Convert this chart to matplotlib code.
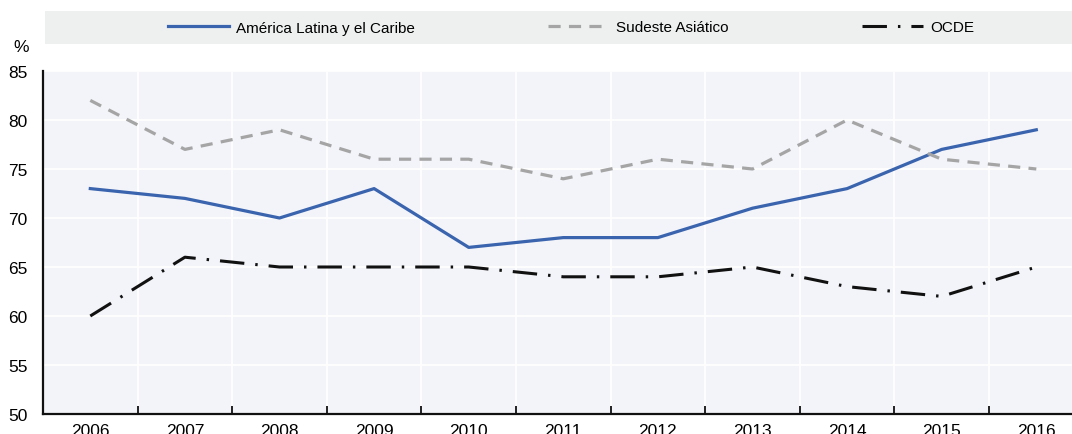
import matplotlib
matplotlib.use("Agg")
import matplotlib.pyplot as plt
from matplotlib.patches import Rectangle

years = ["2006", "2007", "2008", "2009", "2010", "2011", "2012", "2013", "2014", "2015", "2016"]
alc = [73, 72, 70, 73, 67, 68, 68, 71, 73, 77, 79]
sea = [82, 77, 79, 76, 76, 74, 76, 75, 80, 76, 75]
ocde = [60, 66, 65, 65, 65, 64, 64, 65, 63, 62, 65]
yticks = [50, 55, 60, 65, 70, 75, 80, 85]

plt.rcParams['font.family'] = ['Liberation Sans', 'DejaVu Sans']

W, H = 1072, 435
fig = plt.figure(figsize=(W / 100, H / 100), dpi=100)
ax = fig.add_axes([43 / W, 1 - 415 / H, 1 - 43 / W, (415 - 72) / H])
ax.set_facecolor("#f3f4f9")

x = list(range(len(years)))
l1, = ax.plot(x, alc, color="#3a64ae", lw=2.3, label="América Latina y el Caribe")
l2, = ax.plot(x, sea, color="#a5a5a5", lw=2.3, label="Sudeste Asiático")
l2.set_dashes((3.8, 2.6))
l3, = ax.plot(x, ocde, color="#111111", lw=2.2, label="OCDE")
l3.set_dashes((8, 3.6, 0.8, 3.6))

ax.set_ylim(50, 85)
ax.set_yticks(yticks)
ax.tick_params(axis="y", length=0, pad=11, labelsize=12.5)
ax.set_xlim(-0.5, (W - 43) / 94.6 - 0.5)

# boundaries as major ticks, labels on minor ticks at centres
ax.set_xticks([i + 0.5 for i in range(len(years) - 1)])
ax.set_xticklabels([])
ax.set_xticks(x, minor=True)
ax.set_xticklabels(years, minor=True)
ax.tick_params(axis="x", which="major", direction="in", length=6, width=1.3, color="#111111")
ax.tick_params(axis="x", which="minor", length=0, pad=6.5, labelsize=12.5)

ax.grid(True, which="major", color="white", lw=1.3)
ax.set_axisbelow(True)
for s in ["top", "right"]:
    ax.spines[s].set_visible(False)
for s in ["left", "bottom"]:
    ax.spines[s].set_linewidth(1.6)
    ax.spines[s].set_color("#111111")

# legend band
fig.patches.append(Rectangle((45 / W, 1 - 45 / H), 1 - 45 / W, 33 / H,
                             transform=fig.transFigure, facecolor="#eef0f0",
                             edgecolor="none", zorder=0))
fig.legend(handles=[l1, l2, l3], loc="center", bbox_to_anchor=(571 / W, 1 - 28.5 / H),
           ncol=3, frameon=False, handlelength=4.0, handletextpad=0.46,
           columnspacing=8.7, borderaxespad=0, prop={"size": 11})

fig.text(21 / W, 1 - 47 / H, "%", ha="center", va="center", fontsize=12.5)

fig.savefig("out.png", dpi=100)
